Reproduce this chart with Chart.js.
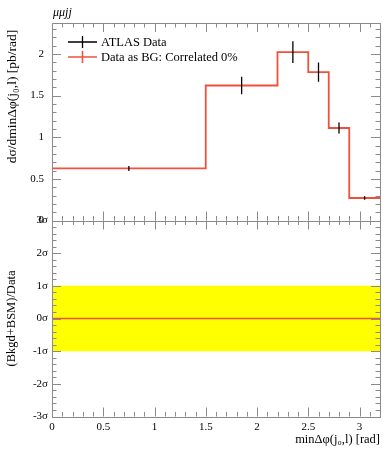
<!DOCTYPE html>
<html><head><meta charset="utf-8">
<script src="https://cdn.jsdelivr.net/npm/chart.js@4/dist/chart.umd.min.js"></script>
<style>
html,body{margin:0;padding:0;background:#fff;}
#wrap{position:relative;width:392px;height:450px;overflow:hidden;background:#fff;}
canvas{position:absolute;left:0;}
#top{top:0;}
#bot{top:200px;}
</style></head><body>
<div id="wrap"><canvas id="top" width="392" height="240"></canvas><canvas id="bot" width="392" height="250"></canvas></div>
<script>
// ---- data ----
const binEdges = [0, 1.5, 2.2, 2.5, 2.7, 2.9, 3.2];
const dataValues = [0.625, 1.62, 2.02, 1.78, 1.11, 0.27];
const dataErrors = [0.03, 0.105, 0.13, 0.115, 0.066, 0.02];
const bgValues = [0.625, 1.62, 2.02, 1.78, 1.11, 0.27];
const ratioValues = [0, 0, 0, 0, 0, 0];
const sigmaBand = [-1, 1];
const legendLabels = ['ATLAS Data', 'Data as BG: Correlated 0%'];
const topYTickLabels = ['0', '0.5', '1', '1.5', '2'];
const ratioTickLabels = ['-3σ', '-2σ', '-1σ', '0σ', '1σ', '2σ', '3σ'];
const xTickLabels = ['0', '0.5', '1', '1.5', '2', '2.5', '3'];
const processLabel = 'μμjj';

// ---- styling ----
const SERIF = '"Liberation Serif", "DejaVu Serif", serif';
const RED = '#f0503c';
const FRAME = '#8a8a8a';

const stepPts = vals => {
  const pts = binEdges.slice(0, -1).map((e, i) => ({x: e, y: vals[i]}));
  pts.push({x: binEdges[binEdges.length - 1], y: vals[vals.length - 1]});
  return pts;
};
const centers = binEdges.slice(0, -1).map((e, i) => (e + binEdges[i + 1]) / 2);
const errPts = [];
centers.forEach((c, i) => {
  errPts.push({x: c, y: dataValues[i] - dataErrors[i]}, {x: c, y: dataValues[i] + dataErrors[i]}, {x: c, y: null});
});

function frameTicks(o) {
  return {
    id: 'frameTicks',
    afterDatasetsDraw(chart) {
      const {ctx, chartArea: a, scales} = chart;
      const xs = scales.x, ys = scales.y;
      ctx.save();
      ctx.strokeStyle = FRAME; ctx.lineWidth = 1;
      ctx.beginPath();
      const isMajor = (v, m) => Math.abs(v / m - Math.round(v / m)) < 1e-6;
      for (let i = 0; ; i++) {
        const v = xs.min + i * o.xMinor;
        if (v > xs.max + 1e-9) break;
        const px = Math.round(xs.getPixelForValue(v)) + 0.5;
        const L = isMajor(v, o.xMajor) ? 9 : 4.5;
        ctx.moveTo(px, a.top); ctx.lineTo(px, a.top + L);
        ctx.moveTo(px, a.bottom); ctx.lineTo(px, a.bottom - L);
      }
      for (let i = 0; ; i++) {
        const v = o.yStart + i * o.yMinor;
        if (v > ys.max + 1e-9) break;
        const py = Math.round(ys.getPixelForValue(v)) + 0.5;
        const L = isMajor(v, o.yMajor) ? 9 : 4.5;
        ctx.moveTo(a.left, py); ctx.lineTo(a.left + L, py);
        ctx.moveTo(a.right, py); ctx.lineTo(a.right - L, py);
      }
      ctx.stroke();
      ctx.strokeRect(Math.round(a.left) + 0.5, Math.round(a.top) + 0.5, Math.round(a.right - a.left), Math.round(a.bottom - a.top));
      ctx.restore();
    }
  };
}

const topDecor = {
  id: 'topDecor',
  afterDraw(chart) {
    const {ctx, chartArea: a} = chart;
    ctx.save();
    ctx.fillStyle = '#000';
    ctx.font = 'italic 12px ' + SERIF;
    ctx.textBaseline = 'alphabetic';
    ctx.fillText(processLabel, a.left + 1, 16);
    const rows = [{color: '#000', y: 42}, {color: RED, y: 57}];
    rows.forEach((r, i) => {
      const x0 = a.left + 16, x1 = a.left + 45, xc = (x0 + x1) / 2;
      ctx.strokeStyle = r.color; ctx.lineWidth = i === 0 ? 1.3 : 1.6;
      ctx.beginPath();
      ctx.moveTo(x0, r.y); ctx.lineTo(x1, r.y);
      ctx.moveTo(xc, r.y - 6); ctx.lineTo(xc, r.y + 6);
      ctx.stroke();
      ctx.fillStyle = '#000';
      ctx.font = '12.5px ' + SERIF;
      ctx.textBaseline = 'middle';
      ctx.fillText(legendLabels[i], a.left + 49, r.y + 1);
    });
    ctx.restore();
  }
};

const common = {responsive: false, animation: false, devicePixelRatio: 1,
  plugins: {legend: {display: false}, tooltip: {enabled: false}}};

new Chart(document.getElementById('top'), {
  type: 'line',
  data: {datasets: [
    {label: legendLabels[0], data: errPts, borderColor: '#000', borderWidth: 1.3, pointRadius: 0, spanGaps: false, order: 0},
    {label: legendLabels[1], data: stepPts(bgValues), stepped: 'before', borderColor: RED, borderWidth: 1.8, pointRadius: 0, order: 1}
  ]},
  options: Object.assign({}, common, {
    layout: {padding: {top: 23, right: 12, bottom: 19.5, left: 0}},
    scales: {
      x: {type: 'linear', min: 0, max: 3.2, display: false},
      y: {type: 'linear', min: 0, max: 2.37,
        afterFit: s => { s.width = 52; },
        grid: {display: false, drawTicks: false}, border: {display: false},
        ticks: {stepSize: 0.5, includeBounds: false, padding: 8, color: '#000', font: {family: SERIF, size: 11},
          callback: v => topYTickLabels[Math.round(v / 0.5)]},
        title: {display: true, text: 'dσ/dminΔφ(j₀,l) [pb/rad]\u00a0\u00a0', align: 'end', color: '#000',
          font: {family: SERIF, size: 13.5}, padding: {top: 4, bottom: 0}}
      }
    }
  }),
  plugins: [frameTicks({xMinor: 0.1, xMajor: 0.5, yStart: 0, yMinor: 0.1, yMajor: 0.5}), topDecor]
});

new Chart(document.getElementById('bot'), {
  type: 'line',
  data: {datasets: [
    {label: 'ratio', data: stepPts(ratioValues), stepped: 'before', borderColor: RED, borderWidth: 1.5, pointRadius: 0, order: 0},
    {label: 'band', data: [{x: binEdges[0], y: sigmaBand[1]}, {x: binEdges[binEdges.length - 1], y: sigmaBand[1]}],
      borderWidth: 0, borderColor: 'rgba(0,0,0,0)', backgroundColor: '#ffff00', pointRadius: 0,
      fill: {value: sigmaBand[0]}, order: 1}
  ]},
  options: Object.assign({}, common, {
    layout: {padding: {top: 20.5, right: 12, bottom: 0, left: 0}},
    scales: {
      x: {type: 'linear', min: 0, max: 3.2,
        afterFit: s => { s.height = 33.5; },
        grid: {display: false, drawTicks: false}, border: {display: false},
        ticks: {stepSize: 0.5, includeBounds: false, padding: 4, color: '#000', maxRotation: 0, font: {family: SERIF, size: 11},
          callback: v => xTickLabels[Math.round(v / 0.5)]},
        title: {display: true, text: 'minΔφ(j₀,l) [rad]', align: 'end', color: '#000',
          font: {family: SERIF, size: 12.5}, padding: {top: 0, bottom: 2.5}}
      },
      y: {type: 'linear', min: -3, max: 3,
        afterFit: s => { s.width = 52; },
        grid: {display: false, drawTicks: false}, border: {display: false},
        ticks: {stepSize: 1, includeBounds: false, padding: 4, color: '#000', font: {family: SERIF, size: 11},
          callback: v => ratioTickLabels[Math.round(v + 3)]},
        title: {display: true, text: '(Bkgd+BSM)/Data', align: 'center', color: '#000',
          font: {family: SERIF, size: 12.5}, padding: {top: 4, bottom: 0}}
      }
    }
  }),
  plugins: [frameTicks({xMinor: 0.1, xMajor: 0.5, yStart: -3, yMinor: 0.2, yMajor: 1})]
});
</script>
</body></html>
